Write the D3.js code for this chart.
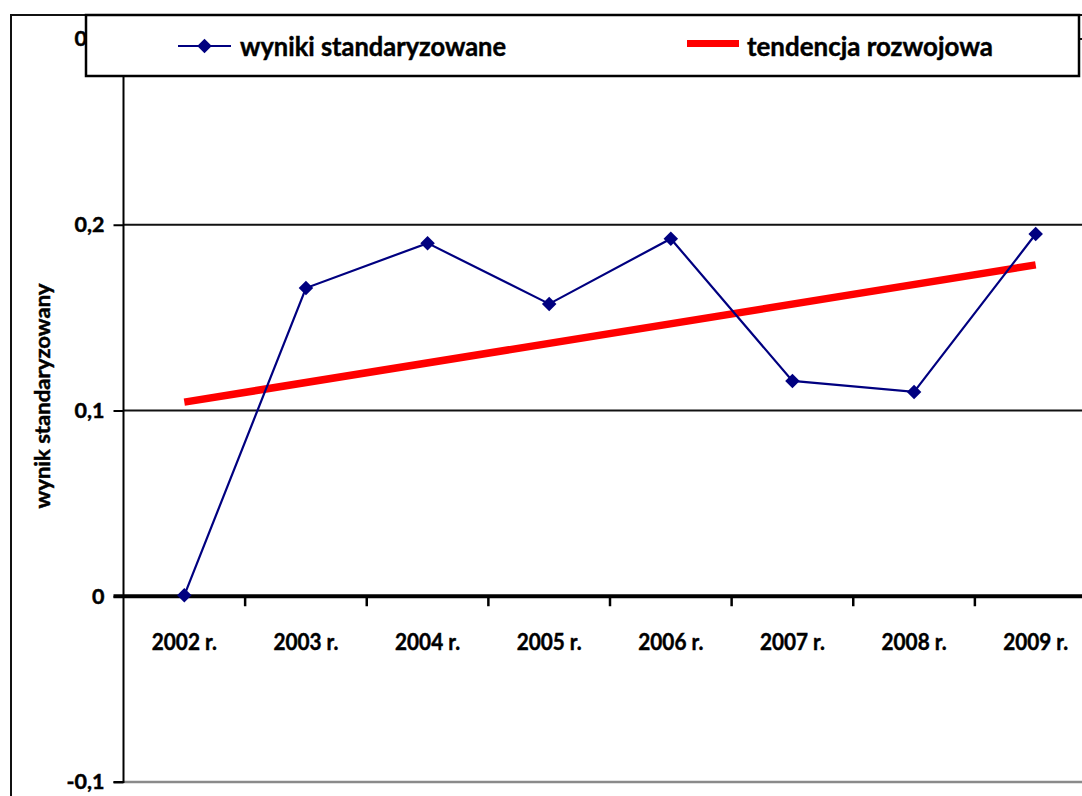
<!DOCTYPE html>
<html>
<head>
<meta charset="utf-8">
<script src="https://cdn.jsdelivr.net/npm/d3@7"></script>
<style>
  html, body { margin: 0; padding: 0; background: #fff; }
  svg { display: block; font-family: Lato, "Open Sans", sans-serif; font-weight: bold; }
  svg text { stroke: #000; stroke-width: 0.45px; paint-order: stroke; }
</style>
</head>
<body>
<svg id="chart" width="1082" height="796"></svg>
<script>
// Years shown on the category axis
const years = ["2002 r.", "2003 r.", "2004 r.", "2005 r.", "2006 r.", "2007 r.", "2008 r.", "2009 r."];
// Standardised results per year
const wyniki = [0.0005, 0.1659, 0.1901, 0.1574, 0.1925, 0.1159, 0.1100, 0.1950];
// Development trend: start and end values (first and last year)
const trendYears = ["2002 r.", "2009 r."];
const trendValues = [0.1045, 0.1784];
// Value axis ticks
const yTicks = [-0.1, 0, 0.1, 0.2, 0.3];

const svg = d3.select("#chart");
const W = 1082, H = 796;

const plot = { left: 123.5, right: 1096.5, top: 39, bottom: 782 };

const x = d3.scaleBand().domain(years).range([plot.left, plot.right]).padding(0);
const y = d3.scaleLinear().domain([-0.1, 0.3]).range([plot.bottom, plot.top]);
const cx = d => x(d) + x.bandwidth() / 2;
const fmt = v => Math.abs(v) < 1e-9 ? "0" : d3.format(".1f")(v).replace("\u2212", "-").replace(".", ",");

// Outer chart frame
svg.append("rect")
  .attr("x", 11).attr("y", 15)
  .attr("width", 1200).attr("height", 900)
  .attr("fill", "#fff").attr("stroke", "#111").attr("stroke-width", 2);

// Horizontal gridlines
svg.append("g").selectAll("line")
  .data(yTicks.filter(v => v > 0))
  .join("line")
  .attr("x1", plot.left).attr("x2", plot.right)
  .attr("y1", d => y(d)).attr("y2", d => y(d))
  .attr("stroke", "#111").attr("stroke-width", 2);

// Bottom edge of the plot area
svg.append("line")
  .attr("x1", plot.left).attr("x2", plot.right)
  .attr("y1", y(-0.1)).attr("y2", y(-0.1))
  .attr("stroke", "#8a8a8a").attr("stroke-width", 2.5);

// Value axis
const yAxis = d3.axisLeft(y).tickValues(yTicks).tickSize(10).tickPadding(9).tickFormat(fmt);
const gy = svg.append("g").attr("transform", `translate(${plot.left},0)`).call(yAxis);
gy.select(".domain").attr("stroke", "#000").attr("stroke-width", 2).attr("d", `M-10,${plot.top}H0V${plot.bottom}H-10`);
gy.selectAll(".tick line").attr("stroke", "#000").attr("stroke-width", 2);
gy.selectAll(".tick text")
  .attr("fill", "#000")
  .style("font-size", "21.5px")
  .style("font-weight", "bold")
  .style("font-family", "Lato, sans-serif");

// Zero line with category separators
svg.append("line")
  .attr("x1", plot.left - 10).attr("x2", W + 20)
  .attr("y1", y(0)).attr("y2", y(0))
  .attr("stroke", "#000").attr("stroke-width", 4);

const separators = years.slice(1).map(d => x(d)).concat([x.range()[1]]);
svg.append("g").selectAll("line")
  .data(separators)
  .join("line")
  .attr("x1", d => d).attr("x2", d => d)
  .attr("y1", y(0)).attr("y2", y(0) + 10)
  .attr("stroke", "#000").attr("stroke-width", 2.5);

// Category labels
const xAxis = d3.axisBottom(x).tickSize(0).tickPadding(0);
const gx = svg.append("g").attr("transform", `translate(0,${y(0)})`).call(xAxis);
gx.select(".domain").remove();
gx.selectAll(".tick text")
  .attr("y", 46).attr("dy", "0.35em")
  .attr("fill", "#000")
  .attr("textLength", 65)
  .attr("lengthAdjust", "spacingAndGlyphs")
  .style("font-size", "22.5px")
  .style("font-weight", "bold")
  .style("font-family", "Lato, sans-serif");

// Axis title
svg.append("text")
  .attr("transform", "translate(43,396) rotate(-90)")
  .attr("text-anchor", "middle")
  .attr("dy", "0.35em")
  .attr("textLength", 225)
  .attr("lengthAdjust", "spacingAndGlyphs")
  .style("font-size", "20px")
  .text("wynik standaryzowany");

// Trend line
const line = d3.line().x(d => cx(d[0])).y(d => y(d[1]));
svg.append("path")
  .datum(trendYears.map((d, i) => [d, trendValues[i]]))
  .attr("d", line)
  .attr("fill", "none")
  .attr("stroke", "#ff0000")
  .attr("stroke-width", 7.5);

// Standardised results series
svg.append("path")
  .datum(years.map((d, i) => [d, wyniki[i]]))
  .attr("d", line)
  .attr("fill", "none")
  .attr("stroke", "#000080")
  .attr("stroke-width", 2.2);

const diamond = d3.symbol().type(d3.symbolSquare).size(105);
svg.append("g").selectAll("path")
  .data(years.map((d, i) => [d, wyniki[i]]))
  .join("path")
  .attr("d", diamond)
  .attr("transform", d => `translate(${cx(d[0])},${y(d[1])}) rotate(45)`)
  .attr("fill", "#000080");

// Legend
const legend = svg.append("g");
legend.append("rect")
  .attr("x", 86).attr("y", 15).attr("width", 993).attr("height", 61)
  .attr("fill", "#fff").attr("stroke", "#000").attr("stroke-width", 2.5);

const legendItems = [
  { label: "wyniki standaryzowane", color: "#000080", width: 2.2, marker: true, x0: 178, x1: 231, ly: 46, tx: 240, tl: 266 },
  { label: "tendencja rozwojowa", color: "#ff0000", width: 7, marker: false, x0: 687, x1: 739, ly: 43.5, tx: 747, tl: 246 }
];
const li = legend.selectAll("g.item").data(legendItems).join("g").attr("class", "item");
li.append("line")
  .attr("x1", d => d.x0).attr("x2", d => d.x1)
  .attr("y1", d => d.ly).attr("y2", d => d.ly)
  .attr("stroke", d => d.color).attr("stroke-width", d => d.width);
li.filter(d => d.marker).append("path")
  .attr("d", diamond)
  .attr("transform", d => `translate(${(d.x0 + d.x1) / 2},${d.ly}) rotate(45)`)
  .attr("fill", d => d.color);
li.append("text")
  .attr("x", d => d.tx).attr("y", 47)
  .attr("dy", "0.35em")
  .attr("textLength", d => d.tl)
  .attr("lengthAdjust", "spacingAndGlyphs")
  .style("font-size", "27px")
  .text(d => d.label);
</script>
</body>
</html>
